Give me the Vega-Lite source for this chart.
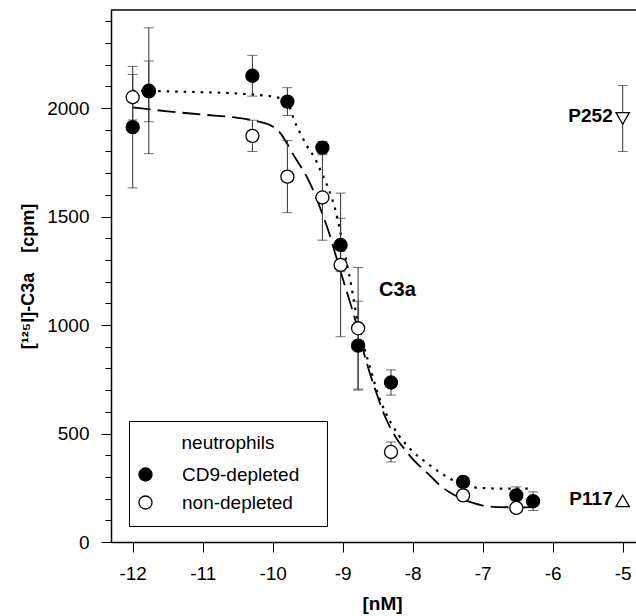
{
  "$schema": "https://vega.github.io/schema/vega-lite/v6.json",
  "width": 525,
  "height": 532,
  "autosize": {"type": "none"},
  "padding": {"left": 111, "top": 10, "right": 0, "bottom": 74},
  "config": {
    "view": {"stroke": null},
    "font": "Liberation Sans",
    "axis": {"grid": false, "domainColor": "black", "domainWidth": 1.5, "tickColor": "black", "tickWidth": 1, "labelColor": "black", "titleColor": "black", "labelFontSize": 19, "labelFont": "Liberation Sans", "titleFont": "Liberation Sans", "labelOverlap": false, "labelFlush": false}
  },
  "datasets": {
    "points": [
      {"x": -11.77, "y": 2077, "err": 140, "group": "non-depleted"},
      {"x": -12.0, "y": 1912, "err": 280, "group": "CD9-depleted"},
      {"x": -11.77, "y": 2080, "err": 290, "group": "CD9-depleted"},
      {"x": -10.29, "y": 2149, "err": 94, "group": "CD9-depleted"},
      {"x": -9.79, "y": 2030, "err": 64, "group": "CD9-depleted"},
      {"x": -9.29, "y": 1818, "err": 28, "group": "CD9-depleted"},
      {"x": -9.03, "y": 1369, "err": 123, "group": "CD9-depleted"},
      {"x": -8.78, "y": 905, "err": 205, "group": "CD9-depleted"},
      {"x": -8.31, "y": 735, "err": 58, "group": "CD9-depleted"},
      {"x": -7.28, "y": 277, "err": 20, "group": "CD9-depleted"},
      {"x": -6.52, "y": 215, "err": 39, "group": "CD9-depleted"},
      {"x": -6.28, "y": 188, "err": 43, "group": "CD9-depleted"},
      {"x": -12.0, "y": 2050, "err": 105, "group": "non-depleted"},
      {"x": -10.29, "y": 1872, "err": 72, "group": "non-depleted"},
      {"x": -9.79, "y": 1684, "err": 166, "group": "non-depleted"},
      {"x": -9.29, "y": 1588, "err": 197, "group": "non-depleted"},
      {"x": -9.03, "y": 1277, "err": 331, "group": "non-depleted"},
      {"x": -8.78, "y": 985, "err": 280, "group": "non-depleted"},
      {"x": -8.31, "y": 415, "err": 46, "group": "non-depleted"},
      {"x": -7.28, "y": 215, "err": 15, "group": "non-depleted"},
      {"x": -6.52, "y": 157, "err": 17, "group": "non-depleted"}
    ],
    "curves": [
      {"series": "CD9-depleted", "x": -12.0, "y": 2080},
      {"series": "CD9-depleted", "x": -11.5, "y": 2077},
      {"series": "CD9-depleted", "x": -11.0, "y": 2073},
      {"series": "CD9-depleted", "x": -10.5, "y": 2067},
      {"series": "CD9-depleted", "x": -10.2, "y": 2060},
      {"series": "CD9-depleted", "x": -10.0, "y": 2053},
      {"series": "CD9-depleted", "x": -9.9, "y": 2046},
      {"series": "CD9-depleted", "x": -9.82, "y": 2035},
      {"series": "CD9-depleted", "x": -9.75, "y": 2000},
      {"series": "CD9-depleted", "x": -9.7, "y": 1950},
      {"series": "CD9-depleted", "x": -9.6, "y": 1880},
      {"series": "CD9-depleted", "x": -9.5, "y": 1820},
      {"series": "CD9-depleted", "x": -9.4, "y": 1770},
      {"series": "CD9-depleted", "x": -9.3, "y": 1700},
      {"series": "CD9-depleted", "x": -9.2, "y": 1625},
      {"series": "CD9-depleted", "x": -9.1, "y": 1525},
      {"series": "CD9-depleted", "x": -9.0, "y": 1375},
      {"series": "CD9-depleted", "x": -8.9, "y": 1220},
      {"series": "CD9-depleted", "x": -8.8, "y": 1040},
      {"series": "CD9-depleted", "x": -8.7, "y": 905},
      {"series": "CD9-depleted", "x": -8.6, "y": 795},
      {"series": "CD9-depleted", "x": -8.5, "y": 685},
      {"series": "CD9-depleted", "x": -8.4, "y": 605},
      {"series": "CD9-depleted", "x": -8.3, "y": 543},
      {"series": "CD9-depleted", "x": -8.2, "y": 492},
      {"series": "CD9-depleted", "x": -8.1, "y": 452},
      {"series": "CD9-depleted", "x": -8.0, "y": 417},
      {"series": "CD9-depleted", "x": -7.8, "y": 365},
      {"series": "CD9-depleted", "x": -7.6, "y": 318},
      {"series": "CD9-depleted", "x": -7.4, "y": 280},
      {"series": "CD9-depleted", "x": -7.2, "y": 256},
      {"series": "CD9-depleted", "x": -7.0, "y": 249},
      {"series": "CD9-depleted", "x": -6.7, "y": 246},
      {"series": "CD9-depleted", "x": -6.28, "y": 246},
      {"series": "non-depleted", "x": -12.0, "y": 2003},
      {"series": "non-depleted", "x": -11.5, "y": 1985},
      {"series": "non-depleted", "x": -11.0, "y": 1970},
      {"series": "non-depleted", "x": -10.5, "y": 1955},
      {"series": "non-depleted", "x": -10.2, "y": 1938},
      {"series": "non-depleted", "x": -10.0, "y": 1915},
      {"series": "non-depleted", "x": -9.9, "y": 1888},
      {"series": "non-depleted", "x": -9.8, "y": 1840},
      {"series": "non-depleted", "x": -9.7, "y": 1782},
      {"series": "non-depleted", "x": -9.6, "y": 1731},
      {"series": "non-depleted", "x": -9.5, "y": 1675},
      {"series": "non-depleted", "x": -9.4, "y": 1605},
      {"series": "non-depleted", "x": -9.3, "y": 1520},
      {"series": "non-depleted", "x": -9.2, "y": 1430},
      {"series": "non-depleted", "x": -9.1, "y": 1322},
      {"series": "non-depleted", "x": -9.0, "y": 1215},
      {"series": "non-depleted", "x": -8.9, "y": 1110},
      {"series": "non-depleted", "x": -8.8, "y": 1000},
      {"series": "non-depleted", "x": -8.7, "y": 875},
      {"series": "non-depleted", "x": -8.6, "y": 765},
      {"series": "non-depleted", "x": -8.5, "y": 670},
      {"series": "non-depleted", "x": -8.4, "y": 582},
      {"series": "non-depleted", "x": -8.3, "y": 515},
      {"series": "non-depleted", "x": -8.2, "y": 462},
      {"series": "non-depleted", "x": -8.1, "y": 422},
      {"series": "non-depleted", "x": -8.0, "y": 382},
      {"series": "non-depleted", "x": -7.9, "y": 350},
      {"series": "non-depleted", "x": -7.75, "y": 305},
      {"series": "non-depleted", "x": -7.6, "y": 258},
      {"series": "non-depleted", "x": -7.45, "y": 225},
      {"series": "non-depleted", "x": -7.3, "y": 200},
      {"series": "non-depleted", "x": -7.15, "y": 181},
      {"series": "non-depleted", "x": -7.0, "y": 168},
      {"series": "non-depleted", "x": -6.8, "y": 161},
      {"series": "non-depleted", "x": -6.5, "y": 160},
      {"series": "non-depleted", "x": -6.28, "y": 161}
    ],
    "refs": [
      {"x": -5.0, "y": 1952, "err": 152, "label": "P252", "shape": "triangle-down"},
      {"x": -5.0, "y": 190, "label": "P117", "shape": "triangle-up"}
    ],
    "notes": [
      {"x": -8.48, "y": 1161, "label": "C3a"}
    ],
    "frame": [
      {"x": -12.31, "x2": -4.81, "y": 2452}
    ]
  },
  "encoding": {
    "x": {"field": "x", "type": "quantitative", "scale": {"domain": [-12.31, -4.81], "nice": false, "zero": false},
      "axis": {"values": [-12, -11, -10, -9, -8, -7, -6, -5], "labelExpr": "'' + datum.value", "tickSize": 10, "labelPadding": 12, "title": "[nM]", "titleFontSize": 19, "titleFontWeight": "bold", "titlePadding": 11, "titleX": 271}},
    "y": {"field": "y", "type": "quantitative", "scale": {"domain": [0, 2452], "nice": false, "zero": false},
      "axis": {"values": [0, 100, 200, 300, 400, 500, 600, 700, 800, 900, 1000, 1100, 1200, 1300, 1400, 1500, 1600, 1700, 1800, 1900, 2000, 2100, 2200, 2300, 2400],
        "labelExpr": "datum.value % 500 === 0 ? '' + datum.value : ''",
        "tickSize": {"condition": {"test": "datum.value % 500 === 0", "value": 10}, "value": 6},
        "labelPadding": 12, "title": "[¹²⁵I]-C3a\u00a0\u00a0\u00a0\u00a0[cpm]", "titleFontSize": 18, "titleFontWeight": "bold", "titlePadding": 9}}
  },
  "layer": [
    {
      "data": {"name": "frame"},
      "mark": {"type": "rule", "color": "black", "strokeWidth": 1.5},
      "encoding": {
        "x2": {"field": "x2"}
      }
    },
    {
      "data": {"name": "curves"},
      "transform": [{"filter": "datum.series === 'non-depleted'"}],
      "mark": {"type": "line", "color": "black", "strokeWidth": 1.8, "strokeDash": [18, 7], "interpolate": "monotone"}
    },
    {
      "data": {"name": "curves"},
      "transform": [{"filter": "datum.series === 'CD9-depleted'"}],
      "mark": {"type": "line", "color": "black", "strokeWidth": 2.2, "strokeDash": [2.5, 6], "interpolate": "monotone"}
    },
    {
      "data": {"name": "points"},
      "mark": {"type": "errorbar", "color": "#333", "ticks": true, "size": 10, "thickness": 1},
      "encoding": {
        "yError": {"field": "err"}
      }
    },
    {
      "data": {"name": "points"},
      "mark": {"type": "circle", "size": 170, "stroke": "black", "strokeWidth": 1.3, "opacity": 1},
      "encoding": {
        "fill": {"field": "group", "type": "nominal",
          "scale": {"domain": ["CD9-depleted", "non-depleted"], "range": ["black", "white"]},
          "legend": {"orient": "none", "legendX": 18, "legendY": 411, "title": "neutrophils", "titleFontSize": 19, "titleFontWeight": "normal", "titleColor": "black", "titleAnchor": "middle", "titlePadding": 12,
            "labelFontSize": 19, "labelColor": "black", "labelExpr": "datum.label + '\u2800'", "labelOffset": 27, "symbolOffset": -6,
            "strokeColor": "black", "fillColor": "white", "padding": 13, "rowPadding": 8,
            "symbolType": "circle", "symbolSize": 170, "symbolStrokeColor": "black", "symbolStrokeWidth": 1.3, "symbolOpacity": 1}}
      }
    },
    {
      "data": {"name": "refs"},
      "transform": [{"filter": {"field": "err", "valid": true}}],
      "mark": {"type": "errorbar", "color": "#333", "ticks": true, "size": 10, "thickness": 1},
      "encoding": {
        "yError": {"field": "err"}
      }
    },
    {
      "data": {"name": "refs"},
      "mark": {"type": "point", "filled": true, "fill": "white", "stroke": "black", "strokeWidth": 1.3, "size": 180, "opacity": 1},
      "encoding": {
        "shape": {"field": "shape", "type": "nominal", "scale": null, "legend": null}
      }
    },
    {
      "data": {"name": "refs"},
      "mark": {"type": "text", "align": "right", "baseline": "middle", "dx": -10, "dy": -2, "fontSize": 19, "fontWeight": "bold", "color": "black"},
      "encoding": {
        "text": {"field": "label"}
      }
    },
    {
      "data": {"name": "notes"},
      "mark": {"type": "text", "align": "left", "baseline": "middle", "fontSize": 20, "fontWeight": "bold", "color": "black"},
      "encoding": {
        "text": {"field": "label"}
      }
    }
  ]
}
